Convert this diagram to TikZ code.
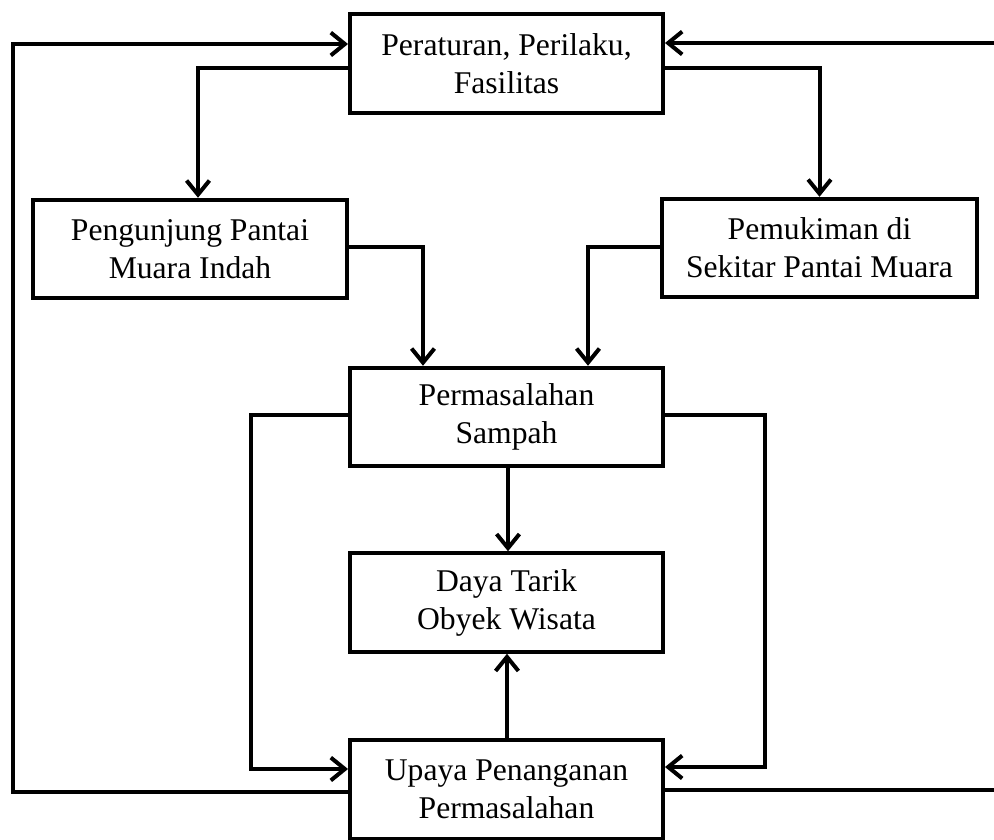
\documentclass[tikz,border=0pt]{standalone}
\usepackage{fontspec}
\setmainfont{Liberation Serif}
\usetikzlibrary{arrows.meta}
\begin{document}
\begin{tikzpicture}[x=0.02cm,y=-0.02cm,
  box/.style={draw,line width=0.08cm,fill=white,minimum width=6.26cm,minimum height=1.97cm,inner sep=0pt,align=center,font=\fontsize{18pt}{21.6pt}\selectfont},
  conn/.style={line width=0.08cm},
  arr/.style={conn,-{Straight Barb[length=8pt,width=13pt]}}]
\useasboundingbox (0,0) rectangle (994,839);
\node[box] (top) at (506.5,63.5) {Peraturan, Perilaku,\\Fasilitas};
\node[box,minimum width=6.28cm] (left) at (190,249) {Pengunjung Pantai\\Muara Indah};
\node[box,minimum width=6.3cm] (right) at (819.5,248) {Pemukiman di\\Sekitar Pantai Muara};
\node[box] (mid) at (506.5,417) {Permasalahan\\Sampah};
\node[box] (daya) at (506.5,602.5) {Daya Tarik\\Obyek Wisata};
\node[box] (bot) at (506.5,789.5) {Upaya Penanganan\\Permasalahan};
\coordinate (redgeA) at (994,43);
\coordinate (redgeB) at (994,790);
% feedback loops
\draw[arr] (bot.west |- 0,792) -- (13,792) -- (13,44) -- (top.west |- 0,44);
\draw[arr] (redgeA) -- (top.east |- redgeA);
\draw[conn] (bot.east |- redgeB) -- (redgeB);
% top to second row
\draw[arr] (top.west |- 0,68) -| (left.north -| 198,0);
\draw[arr] (top.east |- 0,68) -| (right.north);
% second row to mid
\draw[arr] (left.east |- 0,247) -| (mid.north -| 423,0);
\draw[arr] (right.west |- 0,247) -| (mid.north -| 588,0);
% mid sides to bottom
\draw[arr] (mid.west |- 0,415) -- (251,415) -- (251,769) -- (bot.west |- 0,769);
\draw[arr] (mid.east |- 0,415) -- (765,415) -- (765,767) -- (bot.east |- 0,767);
% centre column
\draw[arr] (mid.south -| 508,0) -- (daya.north -| 508,0);
\draw[arr] (bot.north -| 507,0) -- (daya.south -| 507,0);
\end{tikzpicture}
\end{document}
